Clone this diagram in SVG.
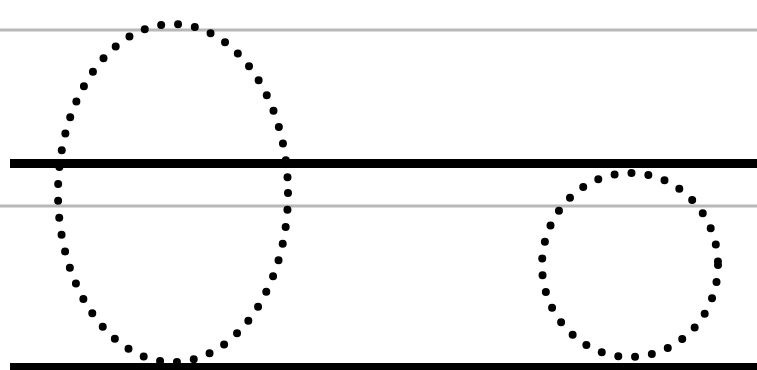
<svg xmlns="http://www.w3.org/2000/svg" width="757" height="370" viewBox="0 0 757 370">
<style>
.guide{stroke:#b8b8b8;stroke-width:3;fill:none}
.base{stroke:#000;stroke-width:9;fill:none}
.dots{stroke:#000;stroke-width:8;fill:none;stroke-linecap:round;stroke-dasharray:0 17}
</style>
<rect width="757" height="370" fill="#fff"/>
<g id="lines">
<line class="guide" x1="0" y1="30" x2="757" y2="30"/>
<line class="guide" x1="0" y1="206" x2="757" y2="206"/>
<line class="base" x1="10" y1="163.5" x2="757" y2="163.5"/>
<line class="base" x1="10" y1="367.5" x2="757" y2="367.5"/>
</g>
<g id="ellipse"><ellipse class="dots" cx="173" cy="193" rx="115" ry="169"/></g>
<g id="circle"><ellipse class="dots" cx="630" cy="265" rx="88" ry="92"/></g>
</svg>
